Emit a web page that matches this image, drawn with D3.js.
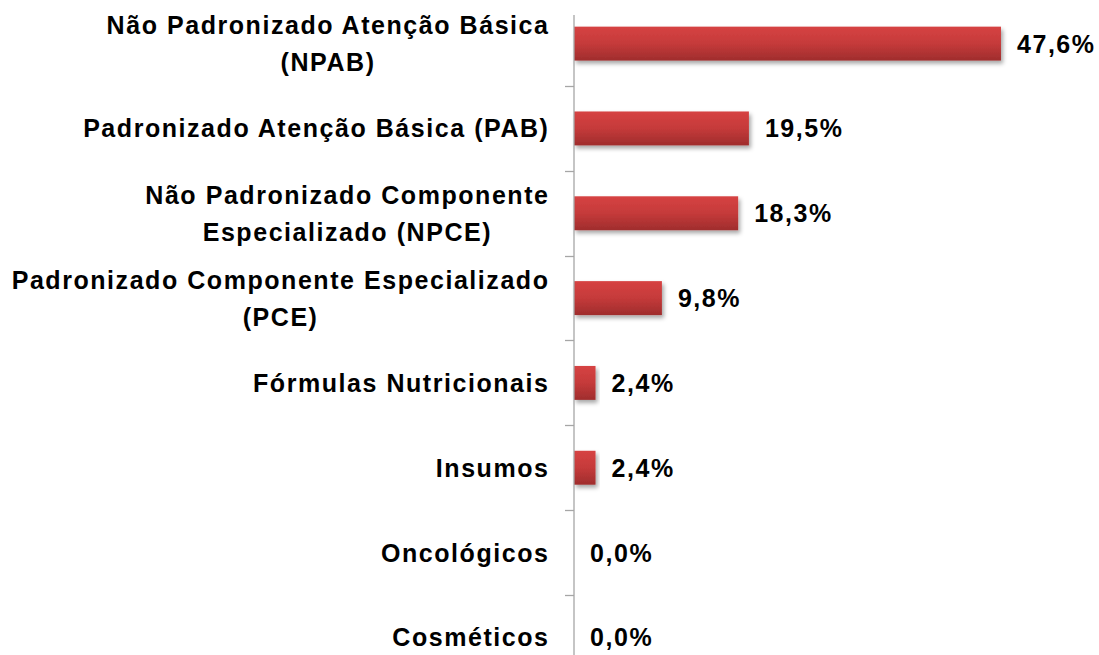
<!DOCTYPE html>
<html><head><meta charset="utf-8">
<script src="https://cdn.jsdelivr.net/npm/d3@7"></script>
<style>
html,body{margin:0;padding:0;background:#fff;overflow:hidden}
text{font-family:"Liberation Sans",Arial,sans-serif;font-weight:bold;font-size:25px;fill:#000;letter-spacing:1.55px}
</style></head>
<body>
<svg id="c" width="1099" height="655"></svg>
<script>
const categories = [
  ["Não Padronizado Atenção Básica", "(NPAB)"],
  ["Padronizado Atenção Básica (PAB)"],
  ["Não Padronizado Componente", "Especializado (NPCE)"],
  ["Padronizado Componente Especializado", "(PCE)"],
  ["Fórmulas Nutricionais"],
  ["Insumos"],
  ["Oncológicos"],
  ["Cosméticos"]
];
const values = [47.6, 19.5, 18.3, 9.8, 2.4, 2.4, 0.0, 0.0];
const valueLabels = ["47,6%", "19,5%", "18,3%", "9,8%", "2,4%", "2,4%", "0,0%", "0,0%"];

const svg = d3.select("#c");
const keys = categories.map(c => c.join(" "));
const x = d3.scaleLinear().domain([0, 50]).range([574, 1022.5]);
const yTicks = d3.scaleBand().domain(keys).range([1.2, 679.8]);
const y = d3.scaleBand().domain(keys).range([1.2, 679.8]).paddingInner(0.6).paddingOuter(0.3);

const defs = svg.append("defs");
const g = defs.append("linearGradient").attr("id","bg").attr("x1",0).attr("y1",0).attr("x2",0).attr("y2",1);
g.append("stop").attr("offset","0%").attr("stop-color","#d64343");
g.append("stop").attr("offset","50%").attr("stop-color","#c53a3a");
g.append("stop").attr("offset","100%").attr("stop-color","#9f2d2d");
const f = defs.append("filter").attr("id","sh").attr("x","-10%").attr("y","-30%").attr("width","130%").attr("height","180%");
f.append("feDropShadow").attr("dx",2).attr("dy",3).attr("stdDeviation",2).attr("flood-color","#000").attr("flood-opacity",0.35);

// bars
const data = keys.map((k, i) => ({k, v: values[i]})).filter(d => d.v > 0);
svg.append("g").selectAll("rect").data(data).join("rect")
  .attr("x", x(0)).attr("y", d => y(d.k))
  .attr("width", d => x(d.v) - x(0)).attr("height", y.bandwidth())
  .attr("fill", "url(#bg)").attr("filter", "url(#sh)");

// axis line and ticks
const ax = svg.append("g").attr("stroke", "#a6a6a6").attr("stroke-width", 1.3);
ax.append("line").attr("x1", x(0)).attr("x2", x(0)).attr("y1", 15).attr("y2", 655);
keys.slice(1).forEach(k => {
  const ty = Math.round(yTicks(k)) + 0.5;
  ax.append("line").attr("x1", x(0) - 9).attr("x2", x(0)).attr("y1", ty).attr("y2", ty);
});

// category labels
const lab = svg.append("g");
const lineH = 37;
categories.forEach((lines, i) => {
  const cy = y(keys[i]) + y.bandwidth() / 2;
  const t = lab.append("g");
  const texts = lines.map((s, j) => t.append("text")
    .attr("y", cy + (j - (lines.length - 1) / 2) * lineH)
    .attr("dy", "0.36em").text(s));
  const widths = texts.map(tx => tx.node().getComputedTextLength());
  const maxW = d3.max(widths);
  const right = 549.5;
  texts.forEach(tx => tx.attr("text-anchor", "middle").attr("x", right - maxW / 2));
});

// value labels
svg.append("g").selectAll("text").data(keys).join("text")
  .attr("x", (k, i) => x(values[i]) + 16)
  .attr("y", k => y(k) + y.bandwidth() / 2)
  .attr("dy", "0.36em")
  .text((k, i) => valueLabels[i]);
</script>
</body></html>
